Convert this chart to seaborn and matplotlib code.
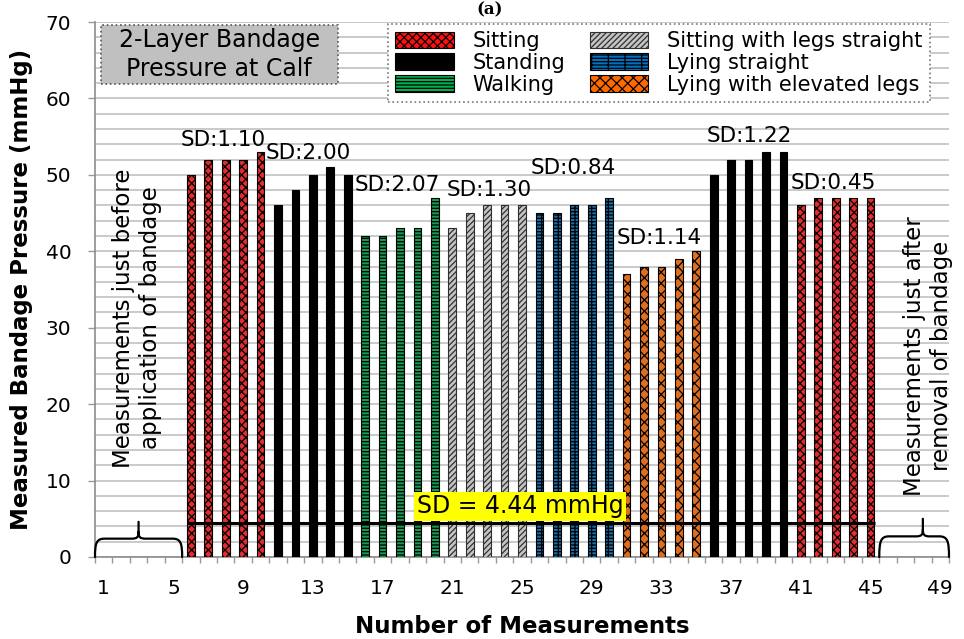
import numpy as np
import pandas as pd
import matplotlib
matplotlib.use("Agg")
import matplotlib.pyplot as plt
import matplotlib.patches as mpatches
from matplotlib.path import Path
import seaborn as sns

# ---- data -------------------------------------------------------------
group_positions = ["Sitting", "Standing", "Walking", "Sitting with legs straight",
                   "Lying straight", "Lying with elevated legs", "Standing", "Sitting"]
first_measurement = 6
sitting_before = [50, 52, 52, 52, 53]
standing_first = [46, 48, 50, 51, 50]
walking = [42, 42, 43, 43, 47]
sitting_legs_straight = [43, 45, 46, 46, 46]
lying_straight = [45, 45, 46, 46, 47]
lying_elevated = [37, 38, 38, 39, 40]
standing_second = [50, 52, 52, 53, 53]
sitting_after = [46, 47, 47, 47, 47]
group_values = [sitting_before, standing_first, walking, sitting_legs_straight,
                lying_straight, lying_elevated, standing_second, sitting_after]
n_measurements = 49
x_tick_values = [1, 5, 9, 13, 17, 21, 25, 29, 33, 37, 41, 45, 49]
y_tick_values = [0, 10, 20, 30, 40, 50, 60, 70]

legend_order = ["Sitting", "Standing", "Walking",
                "Sitting with legs straight", "Lying straight", "Lying with elevated legs"]
face_colors = {"Sitting": "#ff1010", "Standing": "#000000", "Walking": "#00b050",
               "Sitting with legs straight": "#c4c4c4", "Lying straight": "#0070c0",
               "Lying with elevated legs": "#ff6a00"}
hatches = {"Sitting": "xxxx", "Standing": None, "Walking": "-----",
           "Sitting with legs straight": "//////", "Lying straight": "----+",
           "Lying with elevated legs": "xxx"}
edge_colors = {"Sitting": "#000000", "Standing": "#000000", "Walking": "#000000",
               "Sitting with legs straight": "#303030", "Lying straight": "#000000",
               "Lying with elevated legs": "#000000"}

rows = []
for g, (pos, vals) in enumerate(zip(group_positions, group_values)):
    for j, v in enumerate(vals):
        rows.append({"measurement": first_measurement + 5 * g + j,
                     "pressure": v, "position": pos})
df = pd.DataFrame(rows)
position_of = dict(zip(df["measurement"], df["position"]))

group_sd = [np.std(v, ddof=1) for v in group_values]
overall_sd = np.std(df["pressure"], ddof=1)

# ---- styling ----------------------------------------------------------
sns.set_style("white")
plt.rcParams["font.family"] = ["DejaVu Sans"]
plt.rcParams.update({"text.color": "black", "axes.labelcolor": "black",
                     "xtick.color": "black", "ytick.color": "black",
                     "hatch.linewidth": 0.9})

fig = plt.figure(figsize=(9.64, 6.39), dpi=100)
ax = fig.add_axes([95 / 964, 1 - 557 / 639, 854 / 964, 535 / 639])

sns.barplot(data=df, x="measurement", y="pressure", hue="position",
            hue_order=legend_order, palette=face_colors, native_scale=True,
            width=0.45, dodge=False, errorbar=None, legend=False,
            edgecolor="black", linewidth=0.8, ax=ax, zorder=3)

for p in ax.patches:
    m = int(round(p.get_x() + p.get_width() / 2))
    pos = position_of[m]
    p.set_edgecolor(edge_colors[pos])
    if hatches[pos]:
        p.set_hatch(hatches[pos])

# axes, ticks, grid
ax.set_xlim(0.5, n_measurements + 0.5)
ax.set_ylim(0, 70)
ax.set_xticks(x_tick_values)
ax.set_xticklabels([str(v) for v in x_tick_values])
ax.set_xticks(np.arange(0.5, n_measurements + 1, 1), minor=True)
ax.set_yticks(y_tick_values)
ax.set_yticklabels([str(v) for v in y_tick_values])
ax.set_yticks(np.arange(0, 71, 2), minor=True)
ax.tick_params(axis="x", which="major", length=0, pad=16, labelsize=14.5)
ax.tick_params(axis="x", which="minor", length=4.5, width=1, color="#999999",
               direction="out", bottom=True)
ax.tick_params(axis="y", which="major", length=5, width=1, color="#999999",
               direction="out", pad=12, labelsize=14.5, left=True)
ax.tick_params(axis="y", which="minor", length=0)
ax.yaxis.grid(True, which="both", color="#c6c6c6", linewidth=1.3)
ax.xaxis.grid(False)
ax.set_axisbelow(True)
for side in ("top", "right"):
    ax.spines[side].set_visible(False)
for side in ("left", "bottom"):
    ax.spines[side].set_color("#8c8c8c")
    ax.spines[side].set_linewidth(1.2)

ax.set_xlabel("Number of Measurements", fontsize=16.5, fontweight="bold")
ax.set_ylabel("Measured Bandage Pressure (mmHg)", fontsize=16.5, fontweight="bold")
ax.xaxis.set_label_coords(0.5, -0.108)
ax.yaxis.set_label_coords(-0.073, 0.5)

# group standard deviations
sd_label_spots = [(5.4, 54.5), (10.3, 52.8), (15.4, 48.7), (20.7, 48.0),
                  (25.5, 50.9), (30.45, 41.7), (35.6, 55.1), (40.4, 48.9)]
for sd, (lx, ly) in zip(group_sd, sd_label_spots):
    ax.text(lx, ly, f"SD:{sd:.2f}", fontsize=15.5, ha="left", va="center", zorder=5)

# overall standard deviation line and label
ax.hlines(overall_sd, first_measurement - 0.25,
          first_measurement + 5 * len(group_values) - 1 + 0.25,
          color="black", linewidth=2.2, zorder=4)
ax.text(24.9, 6.62, f"SD = {overall_sd:.2f} mmHg", fontsize=17, ha="center",
        va="center", zorder=6,
        bbox=dict(boxstyle="square,pad=0.12", fc="#ffff00", ec="none"))


def curly_brace(ax, x0, x1, xc, y_arm, y_tip):
    codes = [Path.MOVETO, Path.CURVE4, Path.CURVE4, Path.CURVE4,
             Path.LINETO, Path.CURVE4, Path.CURVE4, Path.CURVE4, Path.LINETO,
             Path.MOVETO, Path.CURVE4, Path.CURVE4, Path.CURVE4,
             Path.LINETO, Path.CURVE4, Path.CURVE4, Path.CURVE4]
    verts = [(x0, 0.0), (x0, y_arm * 0.75), (x0 + 0.08, y_arm), (x0 + 0.55, y_arm),
             (xc - 0.4, y_arm), (xc - 0.05, y_arm), (xc, y_arm + 0.25), (xc, y_arm + 0.9),
             (xc, y_tip),
             (xc, y_arm + 0.9), (xc, y_arm + 0.25), (xc + 0.05, y_arm), (xc + 0.4, y_arm),
             (x1 - 0.55, y_arm), (x1 - 0.08, y_arm), (x1, y_arm * 0.75), (x1, 0.0)]
    ax.add_patch(mpatches.PathPatch(Path(verts, codes), fill=False, lw=1.6,
                                    edgecolor="black", zorder=5, clip_on=False,
                                    capstyle="round", joinstyle="round"))


curly_brace(ax, 0.5, 5.5, 3.0, 2.4, 4.6)
curly_brace(ax, 45.5, 49.5, 48.0, 2.7, 5.0)

ax.text(2.9, 31.3, "Measurements just before\napplication of bandage", rotation=90,
        ha="center", va="center", multialignment="center", fontsize=16.5, zorder=5)
ax.text(48.3, 26.3, "Measurements just after\nremoval of bandage", rotation=90,
        ha="center", va="center", multialignment="center", fontsize=16.5, zorder=5)

# title box
ax.add_patch(mpatches.Rectangle((0.84, 61.9), 13.58, 7.7, facecolor="#c0c0c0",
                                edgecolor="#555555", linestyle=":", linewidth=1.2,
                                zorder=5))
ax.text(7.63, 65.75, "2-Layer Bandage\nPressure at Calf", fontsize=17, ha="center",
        va="center", multialignment="center", linespacing=1.25, zorder=6)

# legend
handles = [mpatches.Patch(facecolor=face_colors[k], edgecolor=edge_colors[k],
                          hatch=hatches[k], linewidth=0.8, label=k)
           for k in legend_order]
leg = ax.legend(handles=handles, ncol=2, loc="upper left",
                bbox_to_anchor=(388 / 964, 1 - 24 / 639), bbox_transform=fig.transFigure,
                fontsize=15, frameon=True, fancybox=False, borderaxespad=0,
                handlelength=2.8, handleheight=0.85, handletextpad=0.9,
                columnspacing=1.2, labelspacing=0.08, borderpad=0.35)
frame = leg.get_frame()
frame.set_edgecolor("#777777")
frame.set_linestyle(":")
frame.set_linewidth(1.2)
frame.set_facecolor("white")
frame.set_alpha(1)
leg.set_zorder(7)

fig.text(0.508, 1 - 1 / 639, "(a)", ha="center", va="top", fontsize=12,
         fontweight="bold", family="DejaVu Serif")

fig.savefig("out.png", dpi=100)
